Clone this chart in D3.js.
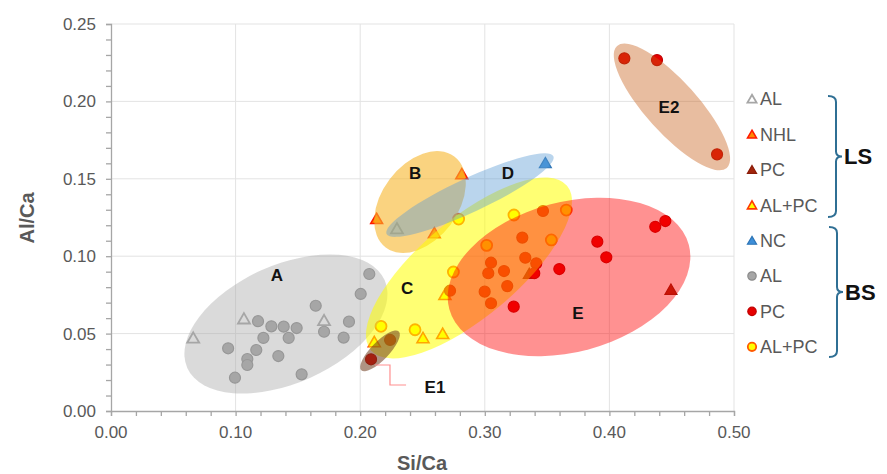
<!DOCTYPE html>
<html>
<head>
<meta charset="utf-8">
<script src="https://cdn.jsdelivr.net/npm/d3@7"></script>
<style>
	body { margin: 0; background: #fff; }
	text { font-family: Arial, "Liberation Sans", sans-serif; }
</style>
</head>
<body>
<svg id="chart" width="887" height="474"></svg>
<script>
// ---- data (Si/Ca, Al/Ca) ----
var lsAL = [[0.066,0.047],[0.1067,0.0594],[0.171,0.0583],[0.2295,0.1176]];
var lsNHL = [[0.2132,0.124],[0.2595,0.1148],[0.2815,0.1529]];
var lsPC = [[0.3357,0.0885],[0.4494,0.0782]];
var lsALPC = [[0.2113,0.0444],[0.2504,0.047],[0.2662,0.0497],[0.268,0.0749]];
var bsNC = [[0.3486,0.160]];
var bsAL = [[0.094,0.0405],[0.0995,0.0215],[0.1094,0.0336],[0.1094,0.0297],[0.1166,0.0394],
	[0.118,0.058],[0.1223,0.0472],[0.1287,0.0547],[0.1386,0.0545],[0.1426,0.0472],[0.149,0.0536],
	[0.1343,0.0355],[0.153,0.0237],[0.1643,0.068],[0.171,0.0512],[0.1867,0.0474],[0.191,0.0577],
	[0.2004,0.0756],[0.2073,0.0885]];
var bsPC = [[0.2087,0.0334],[0.224,0.0459],[0.2721,0.0777],[0.2999,0.0771],[0.3028,0.089],
	[0.305,0.0958],[0.305,0.0696],[0.3154,0.0904],[0.318,0.0807],[0.3232,0.0674],[0.3301,0.112],
	[0.3325,0.099],[0.3413,0.0954],[0.3397,0.089],[0.3467,0.1292],[0.3598,0.0917],[0.3903,0.1094],
	[0.3975,0.0993],[0.4368,0.119],[0.4449,0.1227],[0.412,0.2278],[0.4382,0.2267],[0.4864,0.1658]];
var bsALPC = [[0.2167,0.0547],[0.244,0.0525],[0.2748,0.0898],[0.279,0.124],[0.3015,0.107],
	[0.3234,0.1266],[0.3534,0.1105],[0.3654,0.1298]];

var legendNames = ["AL","NHL","PC","AL+PC","NC","AL","PC","AL+PC"];
var groupNames = ["LS","BS"];
var xTicks = [0,0.1,0.2,0.3,0.4,0.5];
var yTicks = [0,0.05,0.1,0.15,0.2,0.25];

// grouping regions: name, centre (Si/Ca, Al/Ca), label position
var regionNames = ["A","B","C","D","E","E1","E2"];
var regionCentres = [[0.1404,0.0562],[0.248,0.135],[0.2873,0.0924],[0.2881,0.1395],[0.3676,0.0866],[0.2159,0.0388],[0.4502,0.1964]];
var regionLabels = [[0.1332,0.0879],[0.244,0.1537],[0.2376,0.0795],[0.3186,0.1537],[0.3748,0.0633],[0.26,0.0155],[0.4478,0.1964]];

// ---- drawing ----
var svg = d3.select("#chart");
var x = d3.scaleLinear().domain([0,0.5]).range([111,734]);
var y = d3.scaleLinear().domain([0,0.25]).range([411,24]);

// gridlines
svg.append("g").selectAll("line").data(xTicks.slice(1)).enter().append("line")
	.attr("x1", function(d){return x(d);}).attr("x2", function(d){return x(d);})
	.attr("y1", y(0)).attr("y2", y(0.25))
	.attr("stroke", "#e3e3e3").attr("stroke-width", 1);
svg.append("g").selectAll("line").data(yTicks.slice(1)).enter().append("line")
	.attr("x1", x(0)).attr("x2", x(0.5))
	.attr("y1", function(d){return y(d);}).attr("y2", function(d){return y(d);})
	.attr("stroke", "#e3e3e3").attr("stroke-width", 1);

// axes
var xAxis = svg.append("g").attr("transform", "translate(0," + y(0) + ")")
	.call(d3.axisBottom(x).tickValues(d3.range(0, 0.5001, 0.02)).tickSize(5).tickFormat(""));
var yAxis = svg.append("g").attr("transform", "translate(" + x(0) + ",0)")
	.call(d3.axisLeft(y).tickValues(d3.range(0, 0.2501, 0.01)).tickSize(5).tickFormat(""));
svg.selectAll(".domain").attr("stroke", "#a6a6a6").attr("stroke-width", 1.3);
svg.selectAll(".tick line").attr("stroke", "#a6a6a6").attr("stroke-width", 1.3);

svg.append("g").selectAll("text").data(xTicks).enter().append("text")
	.attr("x", function(d){return x(d);}).attr("y", 438)
	.attr("text-anchor", "middle").attr("font-size", 17).attr("fill", "#595959")
	.text(function(d){return d3.format(".2f")(d);});
svg.append("g").selectAll("text").data(yTicks).enter().append("text")
	.attr("x", 96).attr("y", function(d){return y(d);})
	.attr("dy", "0.35em")
	.attr("text-anchor", "end").attr("font-size", 17).attr("fill", "#595959")
	.text(function(d){return d3.format(".2f")(d);});

svg.append("text").attr("x", 422).attr("y", 470)
	.attr("text-anchor", "middle").attr("font-size", 20).attr("font-weight", "bold")
	.attr("fill", "#595959").text("Si/Ca");
svg.append("text").attr("transform", "translate(34,218) rotate(-90)")
	.attr("text-anchor", "middle").attr("font-size", 20).attr("font-weight", "bold")
	.attr("fill", "#595959").text("Al/Ca");

// marker styles per series
var series = [
	{data: lsAL,   shape: "tri", fill: "none",    stroke: "#a6a6a6", sw: 1.8},
	{data: lsNHL,  shape: "tri", fill: "#ff8a00", stroke: "#ff1a00", sw: 1.5},
	{data: lsPC,   shape: "tri", fill: "#a3260d", stroke: "#8a1c08", sw: 1.2},
	{data: lsALPC, shape: "tri", fill: "#ffff00", stroke: "#ff3a00", sw: 1.6},
	{data: bsNC,   shape: "tri", fill: "#3d8fd9", stroke: "#2e75b6", sw: 1.2},
	{data: bsAL,   shape: "dot", fill: "#a6a6a6", stroke: "#8c8c8c", sw: 1.2},
	{data: bsPC,   shape: "dot", fill: "#e60000", stroke: "#c00000", sw: 1.2},
	{data: bsALPC, shape: "dot", fill: "#ffff00", stroke: "#ff5a00", sw: 1.8}
];

var tri = d3.symbol().type(d3.symbolTriangle);

function drawMarker(g, s, big){
	if(s.shape == "tri")
		g.append("path").attr("d", tri.size(big ? 62 : 36)())
			.attr("transform", big ? "translate(0,1)" : "translate(0,1)");
	else
		g.append("circle").attr("r", big ? 5.5 : 4.2);
	g.selectAll("path,circle")
		.attr("fill", s.fill).attr("stroke", s.stroke).attr("stroke-width", s.sw);
}

var pts = svg.append("g");
series.forEach(function(s){
	s.data.forEach(function(d){
		var g = pts.append("g").attr("transform", "translate(" + x(d[0]) + "," + y(d[1]) + ")");
		drawMarker(g, s, true);
	});
});

// regions (drawn over the points, like the original shapes)
var regionStyle = {
	A:  {a: 108, b: 59, rot: -24, fill: "#a6a6a6", op: 0.42},
	B:  {a: 57,  b: 38, rot: -53, fill: "#f7b52c", op: 0.6},
	C:  {a: 128, b: 49, rot: -40, fill: "#ffff00", op: 0.55},
	D:  {a: 92,  b: 17, rot: -25, fill: "#5b9bd5", op: 0.42},
	E:  {a: 124, b: 75, rot: -15, fill: "#ff0000", op: 0.43},
	E1: {a: 27,  b: 9,  rot: -46, fill: "#6e3b1e", op: 0.55},
	E2: {a: 82,  b: 26, rot: 48,  fill: "#c55a11", op: 0.4}
};
var regions = svg.append("g");
regionNames.forEach(function(n, i){
	var st = regionStyle[n];
	var c = regionCentres[i];
	regions.append("ellipse")
		.attr("transform", "translate(" + x(c[0]) + "," + y(c[1]) + ") rotate(" + st.rot + ")")
		.attr("rx", st.a).attr("ry", st.b)
		.attr("fill", st.fill).attr("fill-opacity", st.op);
});

// E1 leader line
var leader = [[0.2119,0.0297],[0.2239,0.0297],[0.2239,0.0168],[0.2368,0.0168]];
svg.append("path")
	.attr("d", d3.line().x(function(d){return x(d[0]);}).y(function(d){return y(d[1]);})(leader))
	.attr("fill", "none").attr("stroke", "#ff8f8f").attr("stroke-width", 1.2);

svg.append("g").selectAll("text").data(regionNames).enter().append("text")
	.attr("x", function(d, i){return x(regionLabels[i][0]);})
	.attr("y", function(d, i){return y(regionLabels[i][1]);})
	.attr("dy", "0.35em").attr("text-anchor", "middle")
	.attr("font-size", 17).attr("font-weight", "bold").attr("fill", "#111")
	.text(function(d){return d;});

// legend
var legend = svg.append("g");
legendNames.forEach(function(name, i){
	var ly = 99 + i * 35.4;
	var g = legend.append("g").attr("transform", "translate(752," + ly + ")");
	drawMarker(g, series[i], false);
	legend.append("text").attr("x", 760).attr("y", ly).attr("dy", "0.35em")
		.attr("font-size", 18).attr("fill", "#595959").text(name);
});

// curly brackets
function brace(x0, x1, top, bottom){
	var mid = (top + bottom) / 2;
	return "M" + x0 + "," + top + " Q" + x1 + "," + top + " " + x1 + "," + (top + 6) +
		" L" + x1 + "," + (mid - 5) + " Q" + x1 + "," + mid + " " + (x1 + 6) + "," + mid +
		" Q" + x1 + "," + mid + " " + x1 + "," + (mid + 5) +
		" L" + x1 + "," + (bottom - 6) + " Q" + x1 + "," + bottom + " " + x0 + "," + bottom;
}
var braces = [[828, 836, 96, 217], [829, 837, 227, 357]];
braces.forEach(function(b, i){
	svg.append("path").attr("d", brace(b[0], b[1], b[2], b[3]))
		.attr("fill", "none").attr("stroke", "#2f6f94").attr("stroke-width", 2);
	svg.append("text").attr("x", b[1] + 8).attr("y", (b[2] + b[3]) / 2).attr("dy", "0.35em")
		.attr("font-size", 22).attr("font-weight", "bold").attr("fill", "#111")
		.text(groupNames[i]);
});
</script>
</body>
</html>
